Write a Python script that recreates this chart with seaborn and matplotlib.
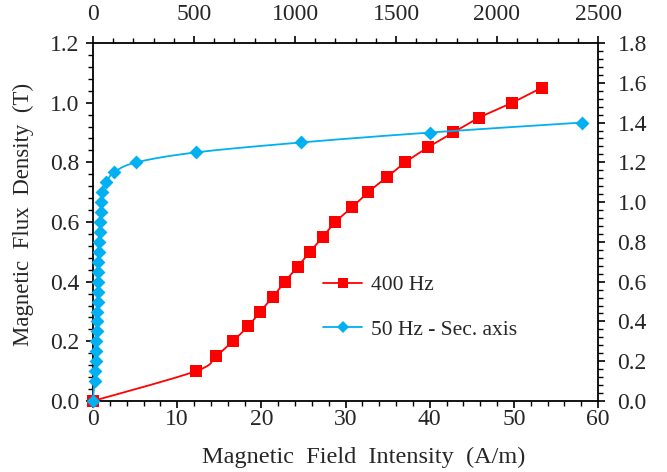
import numpy as np
import pandas as pd
import matplotlib
matplotlib.use("Agg")
import matplotlib.pyplot as plt
from matplotlib.lines import Line2D
from matplotlib.ticker import MultipleLocator, FormatStrFormatter
import seaborn as sns

# 400 Hz magnetisation curve (primary axes)
h_400 = [0.0, 12.2, 14.6, 16.6, 18.4, 19.9, 21.4, 22.8, 24.3, 25.8, 27.3,
         28.8, 30.8, 32.7, 34.9, 37.1, 39.8, 42.8, 45.9, 49.8, 53.3]
b_400 = [0.0, 0.10, 0.15, 0.20, 0.25, 0.30, 0.35, 0.40, 0.45, 0.50, 0.55,
         0.60, 0.65, 0.70, 0.75, 0.80, 0.85, 0.90, 0.95, 1.00, 1.05]

# 50 Hz magnetisation curve (secondary axes)
h_50 = [0, 8, 11, 13, 15, 16, 18, 20, 21, 23, 24, 25, 26, 27, 29, 31, 34,
        37, 40, 42, 47, 66, 105, 215, 510, 1030, 1670, 2420]
b_50 = [0.0, 0.10, 0.15, 0.20, 0.25, 0.30, 0.35, 0.40, 0.45, 0.50, 0.55,
        0.60, 0.65, 0.70, 0.75, 0.80, 0.85, 0.90, 0.95, 1.00, 1.05, 1.10,
        1.15, 1.20, 1.25, 1.30, 1.35, 1.40]

label_400 = "400 Hz"
label_50 = "50 Hz - Sec. axis"
x_label = "Magnetic  Field  Intensity  (A/m)"
y_label = "Magnetic  Flux  Density  (T)"

RED = "#FF0000"
BLUE = "#00B0F0"

sns.set_theme(style="white")
plt.rcParams["font.family"] = ["Liberation Serif", "DejaVu Serif"]

TICK_FS = 17
XLABEL_FS = 17.5
YLABEL_FS = 16.5
LEG_FS = 15.5


def smooth_path(x, y, xlim, ylim, w, h, steps=16):
    """Cardinal (Catmull-Rom) spline through the points, computed in
    screen-proportional space so the curve bends like a smoothed chart line."""
    px = (np.asarray(x, float) - xlim[0]) / (xlim[1] - xlim[0]) * w
    py = (np.asarray(y, float) - ylim[0]) / (ylim[1] - ylim[0]) * h
    P = np.column_stack([px, py])
    n = len(P)
    out = [P[0]]
    t = np.linspace(0, 1, steps + 1)[1:]
    for i in range(n - 1):
        p0 = P[i - 1] if i > 0 else P[i]
        p1, p2 = P[i], P[i + 1]
        p3 = P[i + 2] if i + 2 < n else P[i + 1]
        c1 = p1 + (p2 - p0) / 6.0
        c2 = p2 - (p3 - p1) / 6.0
        for tt in t:
            out.append((1 - tt) ** 3 * p1 + 3 * (1 - tt) ** 2 * tt * c1
                       + 3 * (1 - tt) * tt ** 2 * c2 + tt ** 3 * p2)
    out = np.array(out)
    sx = out[:, 0] / w * (xlim[1] - xlim[0]) + xlim[0]
    sy = out[:, 1] / h * (ylim[1] - ylim[0]) + ylim[0]
    return sx, sy


fig = plt.figure(figsize=(6.67, 4.72), dpi=100)
rect = [93 / 667, 1 - 401 / 472, 505 / 667, 358 / 472]
ax = fig.add_axes(rect)
ax_sec = fig.add_axes(rect, frameon=False)
ax_sec.patch.set_alpha(0)

XL1, YL1 = (0, 60), (0, 1.2)
XL2, YL2 = (0, 2500), (0, 1.8)
W, H = 505, 358

df400 = pd.DataFrame({"H": h_400, "B": b_400})
df50 = pd.DataFrame({"H": h_50, "B": b_50})

sx, sy = smooth_path(h_400, b_400, XL1, YL1, W, H)
ax.plot(sx, sy, color=RED, lw=1.3, zorder=2)
sns.scatterplot(data=df400, x="H", y="B", ax=ax, color=RED, marker="s",
                s=68, linewidth=0, zorder=3, clip_on=False)

sx, sy = smooth_path(h_50, b_50, XL2, YL2, W, H)
ax_sec.plot(sx, sy, color=BLUE, lw=1.3, zorder=2, clip_on=False)
sns.scatterplot(data=df50, x="H", y="B", ax=ax_sec, color=BLUE, marker="D",
                s=50, linewidth=0, zorder=3, clip_on=False)

ax.set_xlim(*XL1)
ax.set_ylim(*YL1)
ax_sec.set_xlim(*XL2)
ax_sec.set_ylim(*YL2)

ax.xaxis.set_major_locator(MultipleLocator(10))
ax.xaxis.set_minor_locator(MultipleLocator(2))
ax.yaxis.set_major_locator(MultipleLocator(0.2))
ax.yaxis.set_minor_locator(MultipleLocator(0.04))
ax.yaxis.set_major_formatter(FormatStrFormatter("%.1f"))

ax_sec.xaxis.tick_top()
ax_sec.yaxis.tick_right()
ax_sec.xaxis.set_major_locator(MultipleLocator(500))
ax_sec.xaxis.set_minor_locator(MultipleLocator(100))
ax_sec.yaxis.set_major_locator(MultipleLocator(0.2))
ax_sec.yaxis.set_minor_locator(MultipleLocator(0.04))
ax_sec.yaxis.set_major_formatter(FormatStrFormatter("%.1f"))

for a in (ax, ax_sec):
    a.tick_params(which="major", direction="out", length=5, width=1.2,
                  color="black", labelsize=TICK_FS)
    a.tick_params(which="minor", direction="out", length=3.5, width=1.0,
                  color="black")
    a.set_xlabel("")
    a.set_ylabel("")

for side in ("left", "bottom", "top", "right"):
    ax.spines[side].set_visible(True)
    ax.spines[side].set_color("black")
    ax.spines[side].set_linewidth(1.3)
ax.tick_params(axis="both", which="both", bottom=True, left=True,
               top=False, right=False)
ax_sec.tick_params(axis="both", which="both", bottom=False, left=False,
                   top=True, right=True)
ax.tick_params(axis="y", which="major", pad=5)
ax.tick_params(axis="x", which="major", pad=1)
ax_sec.tick_params(axis="y", which="major", pad=9)
ax_sec.tick_params(axis="x", which="major", pad=8)

ax.set_xlabel(x_label, fontsize=XLABEL_FS)
ax.xaxis.set_label_coords(0.537, -0.127)
ax.set_ylabel(y_label, fontsize=YLABEL_FS)
ax.yaxis.set_label_coords(-0.117, 0.52)

handles = [
    Line2D([], [], color=RED, lw=1.3, marker="s", markersize=6.5,
           markeredgewidth=0),
    Line2D([], [], color=BLUE, lw=1.3, marker="D", markersize=6,
           markeredgewidth=0),
]
ax.legend(handles, [label_400, label_50], loc="upper left",
          bbox_to_anchor=(0.456, 0.352), frameon=False,
          fontsize=LEG_FS, labelspacing=1.15, handlelength=1.8,
          handletextpad=0.4, borderaxespad=0, borderpad=0)

fig.savefig("out.png", dpi=100)
